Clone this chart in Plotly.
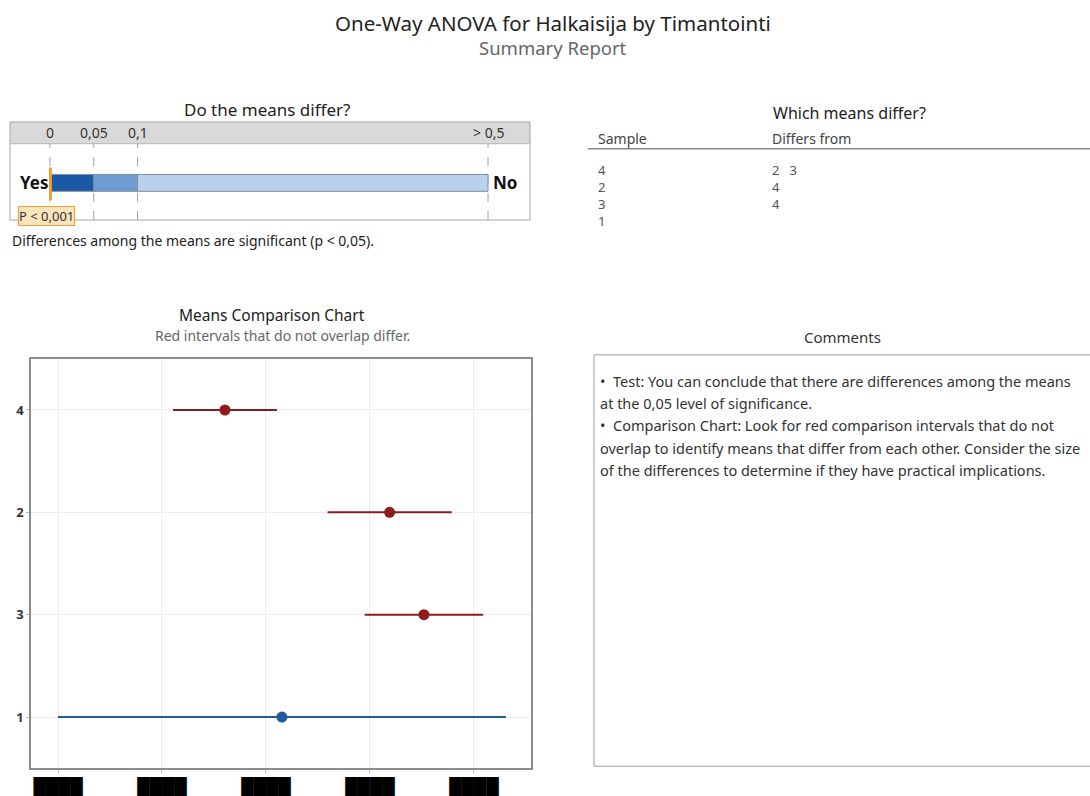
import plotly.graph_objects as go

OX, OY = 0, 0
W, H = 1090, 796

# ---------------- data ----------------
p_thresholds = [0, 0.05, 0.1, 0.5]
p_tick_labels = ["0", "0,05", "0,1", "> 0,5"]
p_segment_colors = ["#1B58A6", "#6E9DD4", "#BAD1EE"]
p_value = 0.0005
p_label = "P < 0,001"

samples = ["1", "3", "2", "4"]          # bottom to top
means = [2.154, 3.52, 3.19, 1.606]
half_widths = [2.155, 0.57, 0.597, 0.5]
differs_flag = [False, True, True, True]
x_ticks = [0, 1, 2, 3, 4]

table_samples = ["4", "2", "3", "1"]
table_differs = ["2   3", "4", "4", ""]

comment_lines = [
    "•  Test: You can conclude that there are differences among the means",
    "at the 0,05 level of significance.",
    "•  Comparison Chart: Look for red comparison intervals that do not",
    "overlap to identify means that differ from each other. Consider the size",
    "of the differences to determine if they have practical implications.",
]

FONT = "Noto Sans"
RED = "#8E1B1B"
BLUE = "#1F5C9E"


def px(x):
    return (x - OX) / W


def py(y):
    return 1 - (y - OY) / H


def pscale(p):
    # Minitab-style nonlinear p-value scale: 0..0.1 takes 20%, 0.1..0.5 takes 80%
    if p <= 0.1:
        return p / 0.1 * 0.2
    return 0.2 + (min(p, 0.5) - 0.1) / 0.4 * 0.8


fig = go.Figure()

# ---------------- p-value bar ----------------
for i in range(3):
    a, b = p_thresholds[i], p_thresholds[i + 1]
    fig.add_trace(go.Bar(
        orientation="h", y=[37.5], x=[pscale(b) - pscale(a)], base=[pscale(a)],
        width=17, marker=dict(color=p_segment_colors[i], line=dict(color="#7F8C9C", width=1)),
        xaxis="x2", yaxis="y2", showlegend=False, hoverinfo="skip",
    ))

shapes = []
shapes.append(dict(type="rect", xref="x2 domain", yref="y2", x0=0, x1=1, y0=77, y1=99,
                   fillcolor="#D9D9D9", line=dict(width=0), layer="below"))
shapes.append(dict(type="rect", xref="x2 domain", yref="y2 domain", x0=0, x1=1, y0=0, y1=1,
                   line=dict(color="#A6A6A6", width=1)))
shapes.append(dict(type="line", xref="x2 domain", yref="y2", x0=0, x1=1, y0=77, y1=77,
                   line=dict(color="#B5B5B5", width=1)))
for t in p_thresholds:
    shapes.append(dict(type="line", xref="x2", yref="y2", x0=pscale(t), x1=pscale(t), y0=0, y1=77,
                       line=dict(color="#A0A0A0", width=1, dash="dash"), layer="below"))
shapes.append(dict(type="line", xref="x2", yref="y2", x0=pscale(p_value), x1=pscale(p_value),
                   y0=20, y1=53, line=dict(color="#F0A030", width=3)))

annotations = []
for t, lab in zip(p_thresholds, p_tick_labels):
    annotations.append(dict(xref="x2", yref="y2", x=pscale(t), y=88, text=lab, showarrow=False,
                            font=dict(family=FONT, size=14, color="#333333")))
annotations.append(dict(xref="x2", yref="y2", x=pscale(0), y=37.5, text="<b>Yes</b>", showarrow=False,
                        xanchor="right", xshift=0, font=dict(family=FONT, size=17, color="#111111")))
annotations.append(dict(xref="x2", yref="y2", x=pscale(0.5), y=37.5, text="<b>No</b>", showarrow=False,
                        xanchor="left", xshift=3, font=dict(family=FONT, size=17, color="#111111")))
annotations.append(dict(xref="paper", yref="paper", x=px(18), y=py(208), text=p_label, showarrow=False,
                        xanchor="left", font=dict(family=FONT, size=13, color="#333333"),
                        bgcolor="#FBE3BD", bordercolor="#F0A030", borderwidth=1, borderpad=0))

# ---------------- means comparison chart ----------------
for s, m, hw, d in zip(samples, means, half_widths, differs_flag):
    c = RED if d else BLUE
    fig.add_trace(go.Scatter(
        x=[m], y=[s], mode="markers",
        marker=dict(color=c, size=11),
        error_x=dict(type="data", array=[hw], color=c, thickness=2, width=0),
        xaxis="x", yaxis="y", showlegend=False,
    ))


# ---------------- texts ----------------
def txt(x, y, text, size, color="#333333", anchor="center"):
    annotations.append(dict(xref="paper", yref="paper", x=px(x), y=py(y), text=text, showarrow=False,
                            xanchor=anchor, yanchor="middle", font=dict(family=FONT, size=size, color=color)))


txt(553, 23, "One-Way ANOVA for Halkaisija by Timantointi", 20.5, "#222222")
txt(553, 48, "Summary Report", 18.5, "#666666")
txt(267, 110, "Do the means differ?", 17, "#222222")
txt(10, 243, "Differences among the means are significant (p < 0,05).", 14, "#222222", "left")

txt(849, 114, "Which means differ?", 16, "#222222")
txt(596, 140, "Sample", 14, "#444444", "left")
txt(770, 140, "Differs from", 14, "#444444", "left")
shapes.append(dict(type="line", xref="paper", yref="paper", x0=px(588), x1=px(1092), y0=py(150), y1=py(150),
                   line=dict(color="#888888", width=1.5)))
for i, (s, d) in enumerate(zip(table_samples, table_differs)):
    txt(596, 172 + 17 * i, s, 13, "#555555", "left")
    if d:
        txt(770, 172 + 17 * i, d, 13, "#555555", "left")

txt(272, 318, "Means Comparison Chart", 15.5, "#222222")
txt(282, 338, "Red intervals that do not overlap differ.", 14, "#666666")

txt(842, 340, "Comments", 15, "#333333")
shapes.append(dict(type="rect", xref="paper", yref="paper", x0=px(594), x1=px(1094), y0=py(773), y1=py(358),
                   line=dict(color="#9A9A9A", width=1)))
for i, line in enumerate(comment_lines):
    txt(598, 384 + 22.5 * i, line, 14.5, "#333333", "left")

fig.update_layout(
    width=W, height=H,
    margin=dict(l=0, r=0, t=0, b=0),
    paper_bgcolor="white", plot_bgcolor="white",
    barmode="overlay",
    showlegend=False,
    font=dict(family=FONT),
    shapes=shapes,
    annotations=annotations,
    xaxis=dict(domain=[px(31), px(531)], range=[-0.26, 4.55], tickvals=x_ticks,
               ticktext=["████"] * len(x_ticks),
               tickfont=dict(family="DejaVu Sans", size=16, color="#000000"),
               showgrid=True, gridcolor="#EDEDED", zeroline=False, showline=True, mirror=True,
               linecolor="#8C8C8C", linewidth=1.5, ticks="outside", ticklen=3, tickcolor="#BBBBBB",
               fixedrange=True),
    yaxis=dict(domain=[py(775), py(362)], type="category", categoryorder="array", categoryarray=samples,
               range=[-0.5, 3.5], tickvals=samples, ticktext=["<b>%s</b>" % s for s in samples],
               tickfont=dict(size=13, color="#333333"),
               showgrid=True, gridcolor="#EDEDED", zeroline=False, showline=True, mirror=True,
               linecolor="#8C8C8C", linewidth=1.5, ticks="outside", ticklen=3, tickcolor="#BBBBBB",
               fixedrange=True),
    xaxis2=dict(domain=[px(10), px(530)], range=[-0.0913, 1.0959], visible=False, fixedrange=True,
                anchor="y2"),
    yaxis2=dict(domain=[py(222), py(123)], range=[0, 99], visible=False, fixedrange=True, anchor="x2"),
)

fig.write_html("out.html", config={"displayModeBar": False},
               post_script="document.body.style.margin='0px';document.body.style.overflow='hidden';")
